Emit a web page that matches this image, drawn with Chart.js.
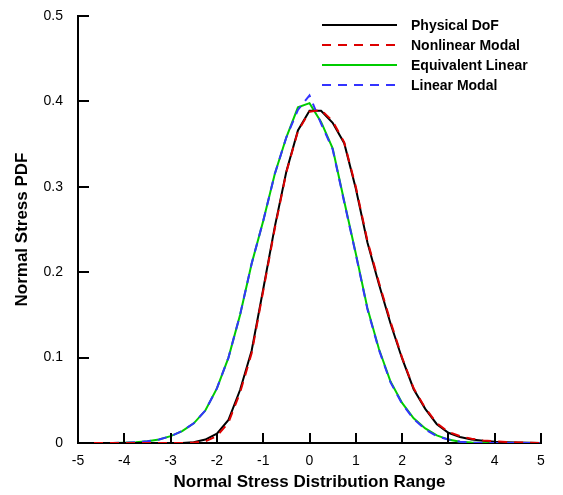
<!DOCTYPE html>
<html>
<head>
<meta charset="utf-8">
<script src="https://cdn.jsdelivr.net/npm/chart.js@4/dist/chart.umd.min.js"></script>
<style>
  html, body { margin: 0; padding: 0; background: #fff; }
  #wrap { width: 563px; height: 495px; position: relative; }
</style>
</head>
<body>
<div id="wrap"><canvas id="pdfChart"></canvas></div>
<script>
// stress values (x), read in steps of 0.25
const stressRange = [-5, -4.75, -4.5, -4.25, -4, -3.75, -3.5, -3.25, -3, -2.75, -2.5, -2.25, -2, -1.75, -1.5, -1.25, -1, -0.75, -0.5, -0.25,
  0, 0.25, 0.5, 0.75, 1, 1.25, 1.5, 1.75, 2, 2.25, 2.5, 2.75, 3, 3.25, 3.5, 3.75, 4, 4.25, 4.5, 4.75, 5];

const physicalDof = [0, 0, 0, 0, 0, 0, 0, 0, 0, 0, 0.001, 0.004, 0.011, 0.027, 0.062, 0.108, 0.180, 0.253, 0.318, 0.366,
  0.389, 0.389, 0.375, 0.351, 0.298, 0.235, 0.186, 0.140, 0.099, 0.063, 0.040, 0.022, 0.012, 0.007, 0.004, 0.0025, 0.0015, 0.001, 0.0005, 0.0002, 0];

const nonlinearModal = [0, 0, 0, 0, 0, 0, 0, 0, 0, 0, 0.0005, 0.002, 0.008, 0.024, 0.059, 0.105, 0.178, 0.251, 0.317, 0.365,
  0.388, 0.390, 0.377, 0.352, 0.300, 0.237, 0.188, 0.142, 0.100, 0.064, 0.041, 0.023, 0.013, 0.008, 0.005, 0.003, 0.002, 0.0012, 0.0006, 0.0003, 0];

const equivalentLinear = [0, 0, 0, 0, 0.0003, 0.0008, 0.002, 0.004, 0.008, 0.014, 0.023, 0.038, 0.064, 0.100, 0.150, 0.210, 0.260, 0.315, 0.358, 0.393,
  0.398, 0.376, 0.345, 0.283, 0.222, 0.158, 0.110, 0.072, 0.047, 0.029, 0.017, 0.009, 0.004, 0.0015, 0.0005, 0, 0, 0, 0, 0, 0];

const linearModal = [0, 0, 0, 0, 0.0003, 0.0008, 0.002, 0.004, 0.008, 0.014, 0.023, 0.038, 0.064, 0.100, 0.150, 0.210, 0.260, 0.315, 0.358, 0.390,
  0.407, 0.374, 0.344, 0.282, 0.221, 0.157, 0.109, 0.071, 0.046, 0.028, 0.016, 0.008, 0.004, 0.0015, 0.0005, 0, 0, 0, 0, 0, 0];

const xTicks = [-5, -4, -3, -2, -1, 0, 1, 2, 3, 4, 5];
const yTicks = [0, 0.1, 0.2, 0.3, 0.4, 0.5];

const seriesNames = ['Physical DoF', 'Nonlinear Modal', 'Equivalent Linear', 'Linear Modal'];
const seriesValues = [physicalDof, nonlinearModal, equivalentLinear, linearModal];
const seriesColors = ['#000000', '#dd0000', '#00cc00', '#3333ff'];
const seriesDash = [[], [9, 7], [], [9, 7]];
// dashed series are painted over the solid ones
const seriesOrder = [1, 0, 1, 0];

function toPoints(values) {
  return values.map((v, i) => ({ x: stressRange[i], y: v }));
}

// ticks that point into the plot, like the original
const inwardTicks = {
  id: 'inwardTicks',
  afterDraw(chart) {
    const ctx = chart.ctx;
    const xs = chart.scales.x, ys = chart.scales.y;
    const area = chart.chartArea;
    ctx.save();
    ctx.strokeStyle = '#000';
    ctx.lineWidth = 2;
    ctx.beginPath();
    xTicks.forEach(t => {
      const px = Math.round(xs.getPixelForValue(t));
      ctx.moveTo(px, area.bottom);
      ctx.lineTo(px, area.bottom - 10);
    });
    yTicks.forEach(t => {
      const py = Math.round(ys.getPixelForValue(t));
      ctx.moveTo(area.left, py);
      ctx.lineTo(area.left + 11, py);
    });
    ctx.stroke();
    ctx.restore();
  }
};

// legend drawn inside the plot, top right
const insideLegend = {
  id: 'insideLegend',
  afterDraw(chart) {
    const ctx = chart.ctx;
    ctx.save();
    ctx.font = 'bold 14px "Liberation Sans", Arial, sans-serif';
    ctx.textBaseline = 'middle';
    chart.data.datasets.forEach((ds, i) => {
      const y = 25 + i * 20;
      ctx.strokeStyle = ds.borderColor;
      ctx.lineWidth = 2;
      ctx.setLineDash(ds.borderDash || []);
      ctx.beginPath();
      ctx.moveTo(322, y);
      ctx.lineTo(397, y);
      ctx.stroke();
      ctx.setLineDash([]);
      ctx.fillStyle = '#000';
      ctx.fillText(ds.label, 411, y + 1);
    });
    ctx.restore();
  }
};

const datasets = seriesNames.map((name, i) => ({
  label: name,
  data: toPoints(seriesValues[i]),
  borderColor: seriesColors[i],
  borderWidth: 2,
  borderDash: seriesDash[i],
  order: seriesOrder[i],
  pointRadius: 0,
  tension: 0,
  fill: false
}));

new Chart(document.getElementById('pdfChart'), {
  type: 'line',
  data: { datasets },
  options: {
    responsive: true,
    maintainAspectRatio: false,
    animation: false,
    layout: { padding: { top: 16, right: 22, left: 0, bottom: 0 } },
    plugins: { legend: { display: false }, tooltip: { enabled: false } },
    scales: {
      x: {
        type: 'linear',
        min: -5, max: 5,
        afterFit: s => { s.height = 52; },
        afterBuildTicks: s => { s.ticks = xTicks.map(v => ({ value: v })); },
        grid: { display: false },
        border: { display: true, color: '#000', width: 2 },
        ticks: { color: '#000', padding: 2, font: { family: '"Liberation Sans", Arial, sans-serif', size: 14 } },
        title: {
          display: true, text: 'Normal Stress Distribution Range', color: '#000',
          font: { family: '"Liberation Sans", Arial, sans-serif', size: 17, weight: 'bold' },
          padding: { top: 2, bottom: 2 }
        }
      },
      y: {
        min: 0, max: 0.5,
        afterFit: s => { s.width = 78; },
        afterBuildTicks: s => { s.ticks = yTicks.map(v => ({ value: v })); },
        grid: { display: false },
        border: { display: true, color: '#000', width: 2 },
        ticks: { color: '#000', padding: 7, font: { family: '"Liberation Sans", Arial, sans-serif', size: 14 },
          callback: v => String(v) },
        title: {
          display: true, text: 'Normal Stress PDF', color: '#000',
          font: { family: '"Liberation Sans", Arial, sans-serif', size: 17, weight: 'bold' },
          padding: { top: 12, bottom: 2 }
        }
      }
    }
  },
  plugins: [inwardTicks, insideLegend]
});
</script>
</body>
</html>
